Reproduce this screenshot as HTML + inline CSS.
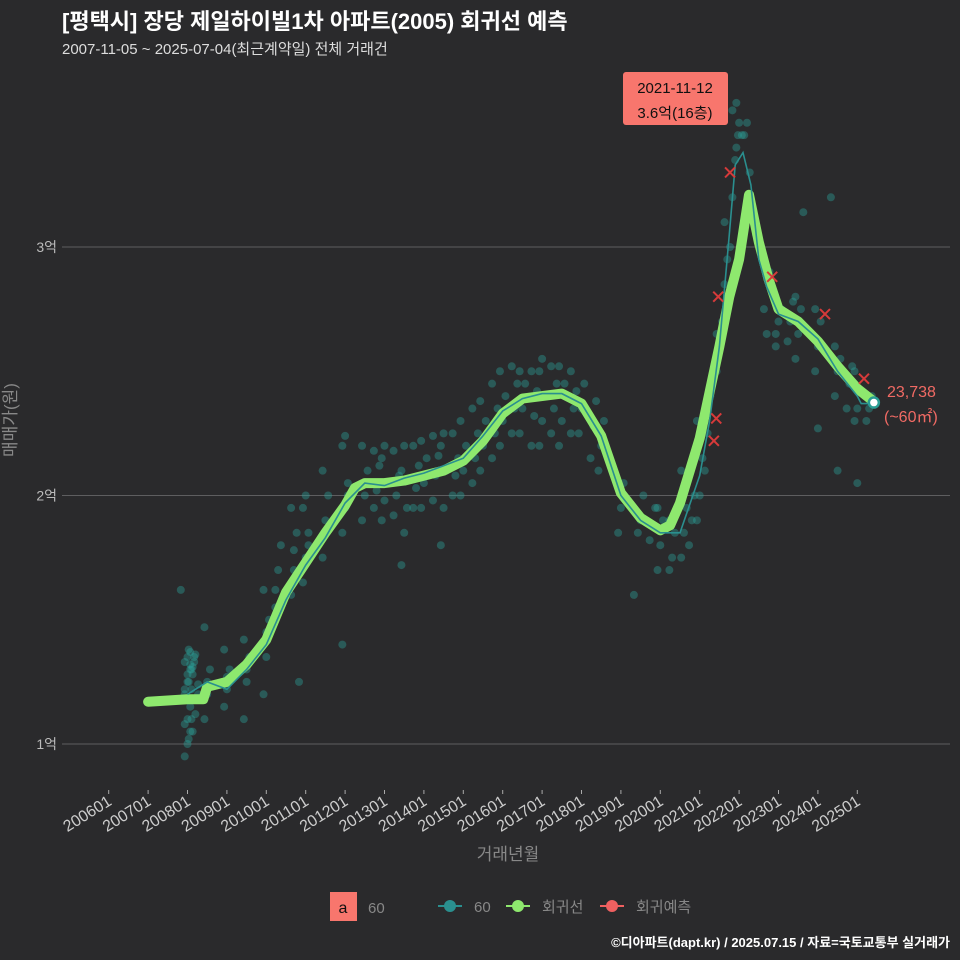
<!DOCTYPE html>
<html><head><meta charset="utf-8"><style>
body{margin:0;background:#2a2a2c;}
svg{display:block;font-family:"Liberation Sans","Noto Sans CJK KR",sans-serif;}
</style></head><body>
<svg id="chart" width="960" height="960" viewBox="0 0 960 960">
<rect width="960" height="960" fill="#2a2a2c"/>
<text x="62" y="29" fill="#fff" font-size="22" font-weight="bold">[평택시] 장당 제일하이빌1차 아파트(2005) 회귀선 예측</text>
<text x="62" y="54" fill="#ddd" font-size="15">2007-11-05 ~ 2025-07-04(최근계약일) 전체 거래건</text>
<g id="grid"></g>
<g id="yaxis"></g>
<g id="xaxis"></g>
<g id="scatter"></g>
<g id="lines"></g>
<g id="marks"></g>
<text x="16" y="420" fill="#888" font-size="17" transform="rotate(-90 16 420)" text-anchor="middle">매매가(원)</text>
<text x="508" y="860" fill="#888" font-size="17" text-anchor="middle">거래년월</text>
<g>
<rect x="623" y="72" width="105" height="53" rx="3" fill="#f8766d"/>
<text x="675" y="93" font-size="15" text-anchor="middle" fill="#111">2021-11-12</text>
<text x="675" y="118" font-size="15" text-anchor="middle" fill="#111">3.6억(16층)</text>
</g>
<text x="887" y="397" fill="#f06a64" font-size="16">23,738</text>
<text x="884" y="422" fill="#f06a64" font-size="16">(~60㎡)</text>
<g>
<rect x="330" y="892" width="27" height="29" fill="#f8766d"/>
<text x="343" y="913" font-size="16" text-anchor="middle" fill="#111">a</text>
<text x="368" y="913" font-size="15" fill="#888">60</text>
<g><line x1="438" y1="906" x2="462" y2="906" stroke="#2a8f8f" stroke-width="2"/><circle cx="450" cy="906" r="6" fill="#2a8f8f"/><text x="474" y="912" font-size="15" fill="#888">60</text></g>
<g><line x1="506" y1="906" x2="530" y2="906" stroke="#8ee86e" stroke-width="2"/><circle cx="518" cy="906" r="6" fill="#8ee86e"/><text x="542" y="912" font-size="15" fill="#888">회귀선</text></g>
<g><line x1="600" y1="906" x2="624" y2="906" stroke="#f06060" stroke-width="2"/><circle cx="612" cy="906" r="6" fill="#f06060"/><text x="636" y="912" font-size="15" fill="#888">회귀예측</text></g>
</g>
<text x="950" y="947" fill="#fff" font-size="13" font-weight="bold" text-anchor="end">©디아파트(dapt.kr) / 2025.07.15 / 자료=국토교통부 실거래가</text>
</svg>
<script>
const yTicks=[1,2,3];
const yTickLabels=["1억","2억","3억"];
const xTicks=[2006,2007,2008,2009,2010,2011,2012,2013,2014,2015,2016,2017,2018,2019,2020,2021,2022,2023,2024,2025];
const xTickLabels=["200601","200701","200801","200901","201001","201101","201201","201301","201401","201501","201601","201701","201801","201901","202001","202101","202201","202301","202401","202501"];
const regT=[2007.0,2007.5,2008.0,2008.4,2008.5,2009.0,2009.5,2010.0,2010.5,2011.0,2011.5,2012.0,2012.25,2012.5,2013.0,2013.5,2014.0,2014.5,2015.0,2015.5,2016.0,2016.5,2017.0,2017.5,2018.0,2018.5,2019.0,2019.5,2020.0,2020.25,2020.5,2021.0,2021.5,2021.75,2022.0,2022.25,2022.5,2022.75,2023.0,2023.5,2024.0,2024.5,2025.0,2025.4];
const regV=[1.17,1.175,1.18,1.18,1.23,1.25,1.32,1.42,1.61,1.73,1.85,1.96,2.03,2.05,2.05,2.06,2.08,2.10,2.14,2.22,2.33,2.39,2.40,2.41,2.37,2.24,2.01,1.91,1.86,1.88,1.97,2.23,2.60,2.80,2.95,3.21,3.02,2.87,2.75,2.70,2.62,2.52,2.43,2.38];
const avgT=[2008.0,2008.5,2009.0,2009.5,2010.0,2010.5,2011.0,2011.5,2012.0,2012.5,2013.0,2013.5,2014.0,2014.5,2015.0,2015.5,2016.0,2016.5,2017.0,2017.5,2018.0,2018.5,2019.0,2019.5,2020.0,2020.5,2021.0,2021.25,2021.5,2021.75,2021.9,2022.1,2022.3,2022.5,2022.7,2023.0,2023.5,2024.0,2024.5,2025.0,2025.1,2025.3];
const avgV=[1.2,1.25,1.22,1.30,1.40,1.58,1.72,1.83,1.97,2.05,2.04,2.07,2.09,2.12,2.15,2.24,2.34,2.39,2.41,2.41,2.37,2.24,2.00,1.90,1.85,1.85,2.08,2.30,2.60,3.05,3.33,3.38,3.25,2.95,2.84,2.73,2.70,2.63,2.50,2.40,2.37,2.37];
const scatterT=[2008.0,2008.1,2008.2,2007.9,2008.5,2009,2009.5,2010,2010.3,2010.7,2011,2011.5,2010.9,2012,2012.0,2012.5,2012.8,2013,2013.3,2013.5,2013.8,2014,2014.3,2014.5,2014.8,2015,2015.3,2015.5,2015.8,2016,2016.3,2016.5,2016.8,2017,2017.3,2017.5,2017.8,2018,2018.3,2018.5,2019,2019.4,2019.5,2019.8,2020,2020.3,2020.6,2020.8,2021,2021.2,2021.5,2021.7,2021.9,2022.0,2022.2,2022.5,2022.7,2023,2023.3,2023.5,2023.7,2024,2024.4,2024.5,2024.8,2025,2025.3];
const scatterV=[[0.95,1.0,1.05,1.08,1.1,1.15,1.2,1.25,1.3,1.33,1.35,1.37,1.22,1.28,1.32],[1.02,1.1,1.18,1.25,1.3,1.35,1.38,1.22,1.33],[1.05,1.12,1.2,1.28,1.36,1.24,1.31],[1.62],[1.1,1.2,1.3,1.47,1.25],[1.15,1.22,1.3,1.38,1.27],[1.1,1.25,1.35,1.42,1.3],[1.2,1.35,1.5,1.62,1.45],[1.55,1.7,1.8,1.62],[1.6,1.7,1.85,1.95,1.78],[1.65,1.75,1.85,1.95,2.0,1.8],[1.75,1.9,2.0,2.1,1.85],[1.25],[1.85,1.95,2.05,2.2,2.24,2.0],[1.4],[1.9,2.0,2.1,2.2,2.05],[1.95,2.02,2.12,2.18],[1.9,1.98,2.05,2.15,2.2],[1.92,2.0,2.08,2.18],[1.72,1.85,1.95,2.1,2.2],[1.95,2.03,2.12,2.2],[1.95,2.05,2.15,2.22],[1.98,2.08,2.16,2.24],[1.8,1.95,2.1,2.2,2.25],[2.0,2.08,2.15,2.25],[2.0,2.1,2.2,2.3],[2.05,2.15,2.25,2.35],[2.1,2.2,2.3,2.38],[2.15,2.25,2.35,2.45],[2.2,2.3,2.4,2.5],[2.25,2.35,2.45,2.52],[2.25,2.35,2.45,2.5],[2.2,2.32,2.42,2.5],[2.2,2.3,2.4,2.5,2.55],[2.25,2.35,2.45,2.52],[2.2,2.3,2.45,2.52],[2.25,2.35,2.42,2.5],[2.25,2.35,2.45],[2.15,2.28,2.38],[2.1,2.2,2.3],[1.85,1.95,2.05],[1.6],[1.85,1.9,2.0],[1.82,1.88,1.95],[1.7,1.8,1.9,1.95],[1.7,1.75,1.85,1.9],[1.75,1.85,1.95,2.1],[1.8,1.9,2.0,2.1],[1.9,2.0,2.15,2.3],[2.1,2.25,2.4],[2.5,2.6,2.7,2.65],[2.85,2.95,3.0,3.1],[3.2,3.35,3.45,3.55],[3.4,3.5,3.45,3.58],[3.45,3.5,3.3,3.1],[3.05],[2.75,2.65,2.9],[2.6,2.7,2.75,2.65],[2.62,2.7,2.78],[2.55,2.65,2.75,2.8],[3.14],[2.5,2.6,2.7,2.75,2.27],[3.2],[2.4,2.5,2.55,2.6,2.1],[2.35,2.45,2.52],[2.3,2.35,2.42,2.5,2.05],[2.3,2.35,2.4]];
const predT=[2021.36,2021.42,2021.47,2021.77,2022.84,2024.18,2025.17];
const predV=[2.22,2.31,2.80,3.30,2.88,2.73,2.47];
const lastT=2025.42, lastV=2.374;

const NS="http://www.w3.org/2000/svg";
const X=t=>108.7+(t-2006)*39.4;
const Y=v=>744-(v-1)*248.5;
function mk(tag,attrs,parent){const e=document.createElementNS(NS,tag);for(const k in attrs)e.setAttribute(k,attrs[k]);parent.appendChild(e);return e;}
const grid=document.getElementById('grid'),ya=document.getElementById('yaxis'),xa=document.getElementById('xaxis');
yTicks.forEach((v,i)=>{
  const l=mk('line',{x1:62,x2:950,y1:Y(v),y2:Y(v),stroke:'#5e5e60','stroke-width':1},grid);
  
  
  const t=mk('text',{x:57,y:Y(v)+5,'text-anchor':'end','font-size':14,fill:'#bbb'},ya);
  t.textContent=yTickLabels[i];
  
  
});
xTicks.forEach((v,i)=>{
  const x=X(v);
  const tk=mk('line',{x1:x,x2:x,y1:790,y2:794,stroke:'#aaa'},xa);
  
  
  const t=mk('text',{x:x+4,y:804,'text-anchor':'end','font-size':16,fill:'#ccc',transform:`rotate(-32 ${x+4} 804)`},xa);
  t.textContent=xTickLabels[i];
  
  
});
const sc=document.getElementById('scatter');
scatterT.forEach((t,g)=>{scatterV[g].forEach((v,k)=>{
  const c=mk('circle',{cx:X(t+((k%3)-1)*0.07),cy:Y(v),r:4,fill:'#2aa39a','fill-opacity':0.4},sc);
  
  
});});
const ln=document.getElementById('lines');
const pts=(T,V)=>T.map((t,i)=>X(t).toFixed(1)+','+Y(V[i]).toFixed(1)).join(' ');
const g=mk('polyline',{points:pts(regT,regV),fill:'none',stroke:'#8ee86e','stroke-width':10,'stroke-linejoin':'round','stroke-linecap':'round'},ln);


const b=mk('polyline',{points:pts(avgT,avgV),fill:'none',stroke:'#2a8f8f','stroke-width':1.6},ln);


const mr=document.getElementById('marks');
predT.forEach((t,i)=>{
  const x=X(t),y=Y(predV[i]);
  const p=mk('path',{d:`M${x-5},${y-5}L${x+5},${y+5}M${x+5},${y-5}L${x-5},${y+5}`,stroke:'#d63a3a','stroke-width':2},mr);
  
  
});
const lp=mk('circle',{cx:X(lastT),cy:Y(lastV),r:5,fill:'#fff',stroke:'#2a9d94','stroke-width':2.5},mr);


</script>
</body></html>
